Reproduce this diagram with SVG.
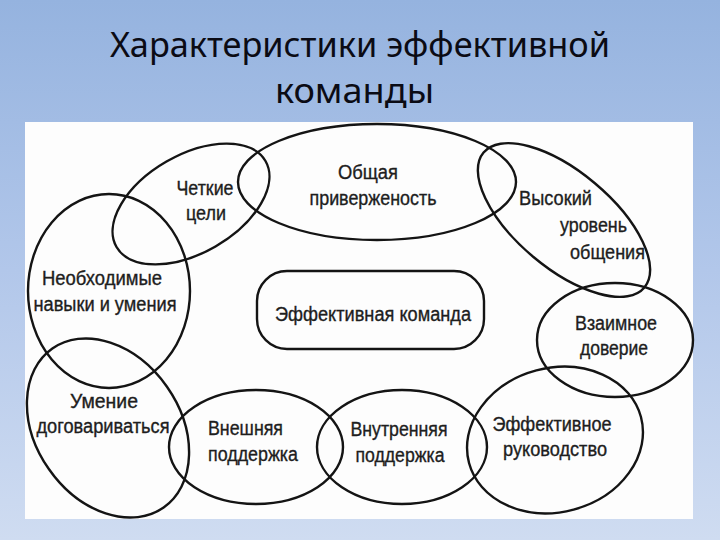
<svg xmlns="http://www.w3.org/2000/svg" width="720" height="540" viewBox="0 0 720 540">
  <defs>
    <linearGradient id="bg" x1="0" y1="0" x2="0" y2="1">
      <stop offset="0" stop-color="#95b3df"/>
      <stop offset="0.5" stop-color="#b2c7ea"/>
      <stop offset="1" stop-color="#cfdcf1"/>
    </linearGradient>
    <style>
      .title { font-family: "Noto Sans", "Open Sans", sans-serif; font-size: 34px; fill: #0b0b14; }
      .shape { fill: none; stroke: #141414; stroke-width: 2.4; }
      .lbl { font-family: "Liberation Sans", Arial, sans-serif; font-size: 19.5px; fill: #1e1e1e; stroke: #1e1e1e; stroke-width: 0.35; text-anchor: middle; }
      .lbls { font-family: "Liberation Sans", Arial, sans-serif; font-size: 19.5px; fill: #1e1e1e; stroke: #1e1e1e; stroke-width: 0.35; }
    </style>
  </defs>

  <rect x="0" y="0" width="720" height="540" fill="url(#bg)"/>
  <text class="title" x="110" y="57" textLength="500" lengthAdjust="spacingAndGlyphs">Характеристики эффективной</text>
  <text class="title" x="275" y="103" textLength="159" lengthAdjust="spacingAndGlyphs">команды</text>

  <rect x="25" y="122" width="668" height="397" fill="#fdfdfd"/>

  <g id="common-commitment">
    <ellipse class="shape" cx="377" cy="182" rx="139" ry="58"/>
    <text class="lbl" x="368" y="179" textLength="60" lengthAdjust="spacingAndGlyphs">Общая</text>
    <text class="lbl" x="373" y="205" textLength="127" lengthAdjust="spacingAndGlyphs">приверженость</text>
  </g>

  <g id="clear-goals">
    <ellipse class="shape" cx="191" cy="204" rx="86" ry="49" transform="rotate(-30 191 204)"/>
    <text class="lbl" x="205" y="195" textLength="57" lengthAdjust="spacingAndGlyphs">Четкие</text>
    <text class="lbl" x="206" y="220" textLength="40" lengthAdjust="spacingAndGlyphs">цели</text>
  </g>

  <g id="skills">
    <ellipse class="shape" cx="109" cy="291" rx="81" ry="97"/>
    <text class="lbl" x="102" y="285" textLength="120" lengthAdjust="spacingAndGlyphs">Необходимые</text>
    <text class="lbl" x="105" y="311" textLength="143" lengthAdjust="spacingAndGlyphs">навыки и умения</text>
  </g>

  <g id="negotiation">
    <ellipse class="shape" cx="108" cy="428" rx="72" ry="97" transform="rotate(-35 108 428)"/>
    <text class="lbl" x="104" y="408" textLength="68" lengthAdjust="spacingAndGlyphs">Умение</text>
    <text class="lbl" x="103" y="433" textLength="133" lengthAdjust="spacingAndGlyphs">договариваться</text>
  </g>

  <g id="external-support">
    <ellipse class="shape" cx="256" cy="447" rx="87" ry="57"/>
    <text class="lbls" x="208" y="435" textLength="75" lengthAdjust="spacingAndGlyphs">Внешняя</text>
    <text class="lbls" x="208" y="461" textLength="90" lengthAdjust="spacingAndGlyphs">поддержка</text>
  </g>

  <g id="internal-support">
    <ellipse class="shape" cx="402" cy="447" rx="85" ry="57"/>
    <text class="lbl" x="399" y="436" textLength="97" lengthAdjust="spacingAndGlyphs">Внутренняя</text>
    <text class="lbl" x="400" y="462" textLength="89" lengthAdjust="spacingAndGlyphs">поддержка</text>
  </g>

  <g id="leadership">
    <ellipse class="shape" cx="555" cy="440" rx="89" ry="72" transform="rotate(-15 555 440)"/>
    <text class="lbl" x="552" y="431" textLength="119" lengthAdjust="spacingAndGlyphs">Эффективное</text>
    <text class="lbl" x="555" y="456" textLength="104" lengthAdjust="spacingAndGlyphs">руководство</text>
  </g>

  <g id="mutual-trust">
    <ellipse class="shape" cx="615" cy="340" rx="78" ry="57"/>
    <text class="lbl" x="616" y="330" textLength="82" lengthAdjust="spacingAndGlyphs">Взаимное</text>
    <text class="lbl" x="614" y="355" textLength="68" lengthAdjust="spacingAndGlyphs">доверие</text>
  </g>

  <g id="communication">
    <ellipse class="shape" cx="564" cy="220" rx="105" ry="48" transform="rotate(40 564 220)"/>
    <text class="lbls" x="519" y="205" textLength="73" lengthAdjust="spacingAndGlyphs">Высокий</text>
    <text class="lbls" x="560" y="232" textLength="67" lengthAdjust="spacingAndGlyphs">уровень</text>
    <text class="lbls" x="570" y="259" textLength="75" lengthAdjust="spacingAndGlyphs">общения</text>
  </g>

  <g id="effective-team">
    <rect class="shape" x="257" y="271" width="227" height="78" rx="30" ry="30"/>
    <text class="lbl" x="373" y="321" textLength="196" lengthAdjust="spacingAndGlyphs">Эффективная команда</text>
  </g>

  <g id="connectors"></g>
</svg>
